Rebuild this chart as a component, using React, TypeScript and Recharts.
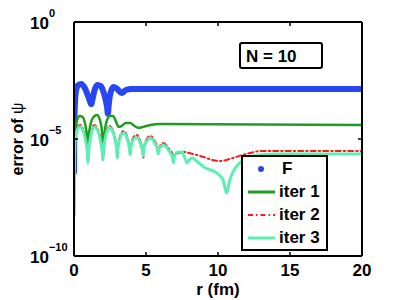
import { LineChart, Line, XAxis, YAxis, Legend } from 'recharts'

const FONT = '"Liberation Sans", Arial, Helvetica, sans-serif'

const xTicks = [0, 5, 10, 15, 20]
const yTicks = [1e-10, 1e-5, 1]

// F (blue dots)
const fR = [0, 0.01, 0.03, 0.08, 0.15, 0.3, 0.5, 0.75, 0.95, 1.1, 1.2, 1.3, 1.45, 1.65, 1.85, 2.05, 2.2, 2.3, 2.35, 2.42, 2.55, 2.75, 3.0, 3.3, 3.6, 4.0, 20]
const fErr = [3.9e-7, 3.4e-6, 6.5e-5, 4.6e-4, 1.24e-3, 2.03e-3, 2.24e-3, 1.51e-3, 7.6e-4, 4.2e-4, 3.1e-4, 5.6e-4, 1.37e-3, 2.03e-3, 1.84e-3, 1.02e-3, 4.6e-4, 2.2e-4, 1.2e-4, 3.2e-4, 1.02e-3, 1.67e-3, 1.37e-3, 9.2e-4, 1.24e-3, 1.37e-3, 1.37e-3]

// iter 1
const iter1R = [0, 0.02, 0.08, 0.2, 0.4, 0.6, 0.8, 0.92, 0.97, 1.02, 1.15, 1.35, 1.6, 1.8, 1.95, 2.05, 2.12, 2.25, 2.5, 2.7, 2.9, 3.1, 3.3, 3.6, 3.9, 4.2, 4.5, 4.8, 5.3, 6, 20]
const iter1Err = [5.6e-9, 2.9e-7, 1.5e-5, 5.9e-5, 9.6e-5, 8.7e-5, 3.6e-5, 1.1e-5, 4.1e-6, 1.2e-5, 4.4e-5, 8.7e-5, 1.06e-4, 6.5e-5, 2.0e-5, 2.1e-6, 1.5e-5, 5.3e-5, 9.6e-5, 9.6e-5, 5.9e-5, 3.3e-5, 3.6e-5, 4.8e-5, 4.8e-5, 3.6e-5, 3.0e-5, 3.3e-5, 4.0e-5, 4.4e-5, 4.0e-5]

// iter 2
const iter2R = [0, 0.02, 0.08, 0.2, 0.4, 0.6, 0.8, 0.92, 0.98, 1.04, 1.15, 1.4, 1.65, 1.85, 1.96, 2.01, 2.06, 2.2, 2.45, 2.7, 2.88, 2.97, 3.01, 3.06, 3.2, 3.45, 3.68, 3.83, 3.9, 3.95, 4.1, 4.35, 4.6, 4.75, 4.81, 4.87, 5.05, 5.3, 5.6, 5.8, 5.86, 5.93, 6.2, 6.55, 6.85, 6.9, 6.97, 7.3, 7.6, 8.0, 8.5, 9.0, 9.6, 10.2, 10.8, 11.5, 12.2, 13, 20]
const iter2Err = [5.6e-9, 2.2e-7, 1.1e-5, 2.7e-5, 4.0e-5, 3.0e-5, 1.2e-5, 4.1e-6, 1.27e-6, 4.1e-6, 1.5e-5, 4.0e-5, 2.7e-5, 1.0e-5, 3.7e-6, 1.27e-6, 4.1e-6, 1.6e-5, 3.6e-5, 2.4e-5, 9.1e-6, 3.7e-6, 1.7e-6, 4.5e-6, 1.34e-5, 2.2e-5, 1.34e-5, 5.5e-6, 2.1e-6, 5.0e-6, 1.1e-5, 1.5e-5, 8.2e-6, 4.1e-6, 1.54e-6, 5.0e-6, 1.0e-5, 1.34e-5, 8.2e-6, 4.1e-6, 2.5e-6, 4.5e-6, 6.7e-6, 4.1e-6, 2.1e-6, 1.54e-6, 2.3e-6, 2.5e-6, 2.8e-6, 2.5e-6, 2.1e-6, 1.7e-6, 1.27e-6, 1.15e-6, 1.4e-6, 1.9e-6, 2.5e-6, 3.1e-6, 3.1e-6]

// iter 3
const iter3R = [0, 0.02, 0.08, 0.2, 0.4, 0.6, 0.8, 0.92, 0.97, 1.03, 1.15, 1.4, 1.65, 1.85, 1.96, 2.0, 2.05, 2.2, 2.45, 2.7, 2.88, 2.97, 3.0, 3.05, 3.2, 3.45, 3.68, 3.83, 3.9, 3.95, 4.1, 4.35, 4.6, 4.75, 4.8, 4.86, 5.05, 5.3, 5.6, 5.8, 5.85, 5.92, 6.2, 6.55, 6.85, 6.9, 6.97, 7.2, 7.5, 7.7, 7.85, 8.0, 8.2, 8.6, 9.0, 9.5, 10.0, 10.35, 10.6, 10.8, 11.1, 11.6, 12.2, 13.0, 14, 20]
const iter3Err = [5.6e-9, 1.8e-7, 9.1e-6, 2.2e-5, 3.3e-5, 2.4e-5, 9.1e-6, 2.8e-6, 9.4e-7, 3.4e-6, 1.2e-5, 3.3e-5, 2.2e-5, 7.4e-6, 2.8e-6, 1.27e-6, 3.4e-6, 1.34e-5, 3.0e-5, 2.0e-5, 7.4e-6, 3.1e-6, 1.54e-6, 3.7e-6, 1.1e-5, 1.8e-5, 1.1e-5, 4.5e-6, 2.1e-6, 4.1e-6, 9.1e-6, 1.2e-5, 6.7e-6, 3.4e-6, 1.9e-6, 4.1e-6, 8.2e-6, 1.1e-5, 6.7e-6, 3.4e-6, 2.3e-6, 3.7e-6, 5.5e-6, 3.4e-6, 1.54e-6, 9.4e-7, 1.7e-6, 2.8e-6, 2.8e-6, 1.54e-6, 9.4e-7, 1.27e-6, 1.54e-6, 1.04e-6, 6.4e-7, 4.7e-7, 3.2e-7, 1.8e-7, 4.9e-8, 1.6e-7, 4.7e-7, 1.04e-6, 1.7e-6, 2.1e-6, 2.3e-6, 2.3e-6]

const toPoints = (rs: number[], vs: number[]) => rs.map((r, i) => ({ r, err: vs[i] }))

const series = [
  { name: 'F', data: toPoints(fR, fErr), color: '#2846f2', width: 6, dash: undefined as string | undefined },
  { name: 'iter 1', data: toPoints(iter1R, iter1Err), color: '#1e9e1e', width: 2.5, dash: undefined },
  { name: 'iter 2', data: toPoints(iter2R, iter2Err), color: '#ff1a1a', width: 2, dash: '5 3 1.5 3' },
  { name: 'iter 3', data: toPoints(iter3R, iter3Err), color: '#5af0b4', width: 3, dash: undefined },
]

const XTick = ({ x, y, payload }: any) => (
  <g>
    <line x1={x} x2={x} y1={y} y2={y - 4} stroke="#000" strokeWidth={1.5} />
    <text x={x} y={y + 20} textAnchor="middle" fontFamily={FONT} fontWeight="bold" fontSize={17} fill="#000">
      {payload.value}
    </text>
  </g>
)

const TopTick = ({ x, y }: any) => <line x1={x} x2={x} y1={y} y2={y + 4} stroke="#000" strokeWidth={1.5} />

const YTick = ({ x, y, payload }: any) => {
  const p = Math.round(Math.log10(payload.value))
  return (
    <g>
      <line x1={x} x2={x + 4} y1={y} y2={y} stroke="#000" strokeWidth={1.5} />
      <text x={30} y={y + 7} fontFamily={FONT} fontWeight="bold" fontSize={17} fill="#000">
        10
        <tspan dy={-12} fontSize={11}>{p === 0 ? '0' : `\u2212${-p}`}</tspan>
      </text>
    </g>
  )
}

const RightTick = ({ x, y }: any) => <line x1={x} x2={x - 4} y1={y} y2={y} stroke="#000" strokeWidth={1.5} />

const LegendBox = () => (
  <div
    style={{
      width: 87,
      border: '2px solid #000',
      background: '#fff',
      boxSizing: 'border-box',
      fontFamily: FONT,
      fontWeight: 'bold',
      fontSize: 17,
      color: '#000',
    }}
  >
    {series.map((s) => (
      <div key={s.name} style={{ display: 'flex', alignItems: 'center', height: 23 }}>
        <svg width={36} height={10} style={{ flex: 'none' }}>
          {s.name === 'F' ? (
            <circle cx={18} cy={5} r={3} fill={s.color} />
          ) : (
            <line x1={5} x2={32} y1={5} y2={5} stroke={s.color} strokeWidth={s.dash ? 2 : 3} strokeDasharray={s.dash} />
          )}
        </svg>
        <span style={{ marginLeft: s.name === 'F' ? 3 : 0, lineHeight: '23px', whiteSpace: 'nowrap' }}>{s.name}</span>
      </div>
    ))}
  </div>
)

export default function App() {
  return (
    <div style={{ position: 'absolute', left: 0, top: 0, width: 399, height: 300, background: '#fff' }}>
      <LineChart width={399} height={300} margin={{ top: 0, right: 0, bottom: 0, left: 0 }}>
        <XAxis
          dataKey="r"
          type="number"
          domain={[0, 20]}
          ticks={xTicks}
          allowDataOverflow
          height={44}
          tickSize={0}
          tickMargin={0}
          tick={<XTick />}
          axisLine={{ stroke: '#000', strokeWidth: 2 }}
          label={{
            content: (p: any) => (
              <text
                x={p.viewBox.x + p.viewBox.width / 2}
                y={p.viewBox.y + 39}
                textAnchor="middle"
                fontFamily={FONT}
                fontWeight="bold"
                fontSize={17}
                fill="#000"
              >
                r (fm)
              </text>
            ),
          }}
        />
        <XAxis
          xAxisId="top"
          orientation="top"
          dataKey="r"
          type="number"
          domain={[0, 20]}
          ticks={xTicks}
          allowDataOverflow
          height={22}
          tickSize={0}
          tickMargin={0}
          tick={<TopTick />}
          axisLine={{ stroke: '#000', strokeWidth: 2 }}
        />
        <YAxis
          dataKey="err"
          type="number"
          scale="log"
          domain={[1e-10, 1]}
          ticks={yTicks}
          allowDataOverflow
          width={74}
          tickSize={0}
          tickMargin={0}
          tick={<YTick />}
          axisLine={{ stroke: '#000', strokeWidth: 2 }}
          label={{
            content: (p: any) => {
              const cx = 23
              const cy = p.viewBox.y + p.viewBox.height / 2
              return (
                <text
                  x={cx}
                  y={cy}
                  transform={`rotate(-90 ${cx} ${cy})`}
                  textAnchor="middle"
                  fontFamily={FONT}
                  fontWeight="bold"
                  fontSize={16}
                  fill="#000"
                >
                  error of <tspan fontWeight="normal">ψ</tspan>
                </text>
              )
            },
          }}
        />
        <YAxis
          yAxisId="right"
          orientation="right"
          type="number"
          scale="log"
          domain={[1e-10, 1]}
          ticks={yTicks}
          allowDataOverflow
          width={37}
          tickSize={0}
          tickMargin={0}
          tick={<RightTick />}
          axisLine={{ stroke: '#000', strokeWidth: 2 }}
        />
        {series.map((s) => (
          <Line
            key={s.name}
            name={s.name}
            data={s.data}
            dataKey="err"
            type="monotone"
            stroke={s.color}
            strokeWidth={s.width}
            strokeDasharray={s.dash}
            strokeLinejoin="round"
            strokeLinecap="round"
            dot={false}
            activeDot={false}
            isAnimationActive={false}
          />
        ))}
        <Legend
          layout="vertical"
          align="center"
          verticalAlign="middle"
          content={<LegendBox />}
          wrapperStyle={{ position: 'absolute', left: 241, top: 155, width: 87, height: 'auto' }}
        />
      </LineChart>
      <div
        style={{
          position: 'absolute',
          left: 239,
          top: 42,
          width: 84,
          height: 27,
          border: '2px solid #000',
          borderRadius: 3,
          boxSizing: 'border-box',
          paddingLeft: 5,
          paddingTop: 1,
          lineHeight: '23px',
          fontFamily: FONT,
          fontWeight: 'bold',
          fontSize: 17,
          color: '#000',
        }}
      >
        N = 10
      </div>
    </div>
  )
}
